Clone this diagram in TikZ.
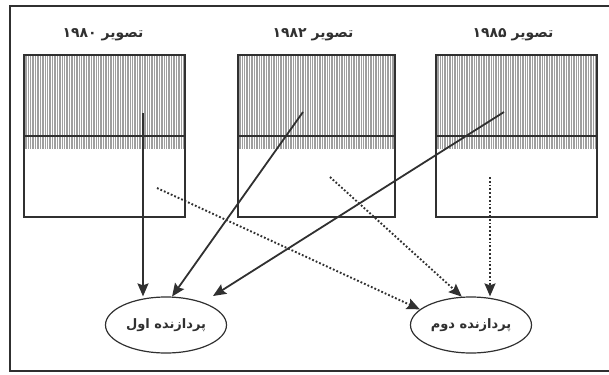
\documentclass[tikz,border=0pt]{standalone}
\usepackage{fontspec}
\newfontfamily\fa[Script=Arabic]{DejaVu Sans}
\TeXXeTstate=1
\usetikzlibrary{arrows.meta,shapes.geometric}
\definecolor{ink}{HTML}{303030}
\begin{document}
\begin{tikzpicture}[x=1pt,y=-1pt,
  frame/.style={draw=ink,line width=2.2pt},
  imgbox/.style={draw=ink,line width=1.4pt},
  hatch/.style={draw=gray!75,line width=0.9pt},
  title/.style={font=\fa\bfseries\fontsize{14}{16}\selectfont,text=ink},
  proc/.style={ellipse,draw=ink,line width=1.2pt,minimum width=121pt,minimum height=56pt,
    inner sep=0pt,font=\fa\bfseries\fontsize{13}{15}\selectfont,text=ink},
  arr/.style={draw=ink,line width=1.8pt,-{Stealth[length=13pt,width=11pt,inset=2pt]}},
  darr/.style={arr,dotted,line width=1.9pt}]
\useasboundingbox (0,0) rectangle (609,374);
% outer frame (its right side lies past the page edge)
\draw[frame] (612,6) -- (10,6) -- (10,371) -- (612,371);

% three images: shaded upper part, divider line, outline
\foreach \name/\l/\r in {b1/24/185,b2/238/395,b3/436/597}{
  \pgfmathsetmacro{\first}{\l+1.2}
  \pgfmathsetmacro{\second}{\l+2.9}
  \pgfmathsetmacro{\last}{\r-0.8}
  \foreach \x in {\first,\second,...,\last}
    \draw[hatch] (\x,55) -- (\x,149);
  \draw[imgbox] (\l,136) -- (\r,136);
  \node[imgbox,inner sep=0pt,minimum width={\r-\l},minimum height=162pt] (\name) at ({(\l+\r)/2},136) {};
}

\node[title] (t1) at (103,35) {\beginR تصویر \beginL۱۹۸۰\endL\endR};
\node[title] (t2) at (313,35) {\beginR تصویر \beginL۱۹۸۲\endL\endR};
\node[title] (t3) at (513,35) {\beginR تصویر \beginL۱۹۸۵\endL\endR};

% processors
\node[proc] (p1) at (166,325) {\beginR پردازنده اول\endR};
\node[proc] (p2) at (471,325) {\beginR پردازنده دوم\endR};

% start points inside the images
\coordinate (s1) at (143,113);
\coordinate (s2) at (303,112);
\coordinate (s3) at (504,112);
\coordinate (s4) at (157,188);
\coordinate (s5) at (330,177);
\coordinate (s6) at (490,177);
\coordinate (e3) at ([shift={(47pt,29pt)}]p1.center);

% solid connectors to the first processor
\draw[arr] (s1) -- (s1 |- p1.north);
\draw[arr] (s2) -- (p1.78);
\draw[arr] (s3) -- (e3);
% dotted connectors to the second processor
\draw[darr] (s4) -- (p2.163);
\draw[darr] (s5) -- (p2.108);
\draw[darr] (s6) -- (s6 |- p2.north);
\end{tikzpicture}
\end{document}
